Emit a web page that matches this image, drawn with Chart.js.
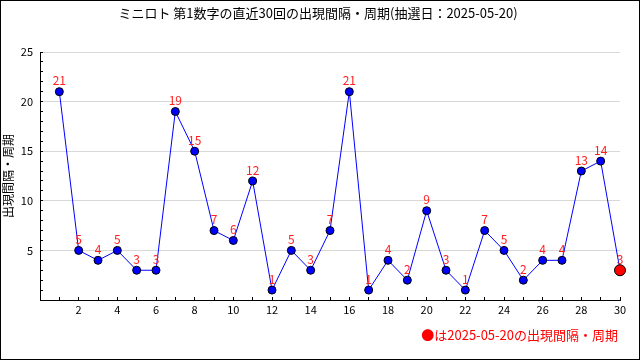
<!DOCTYPE html>
<html>
<head>
<meta charset="utf-8">
<script src="https://cdn.jsdelivr.net/npm/chart.js@4.4.1/dist/chart.umd.min.js"></script>
<style>
html,body{margin:0;padding:0;background:#fff;}
#wrap{width:640px;height:360px;position:relative;}
</style>
</head>
<body>
<div id="wrap"><canvas id="c" width="640" height="360"></canvas></div>
<script>
const titleText = 'ミニロト 第1数字の直近30回の出現間隔・周期(抽選日：2025-05-20)';
const yAxisTitle = '出現間隔・周期';
const footerText = '●は2025-05-20の出現間隔・周期';
const draws = [1,2,3,4,5,6,7,8,9,10,11,12,13,14,15,16,17,18,19,20,21,22,23,24,25,26,27,28,29,30];
const intervals = [21,5,4,5,3,3,19,15,7,6,12,1,5,3,7,21,1,4,2,9,3,1,7,5,2,4,4,13,14,3];
const yTicks = [5,10,15,20,25];
const xTicks = [2,4,6,8,10,12,14,16,18,20,22,24,26,28,30];

const FONT = '"Noto Sans CJK JP", "DejaVu Sans", sans-serif';
const lastIdx = intervals.length - 1;

const framePlugin = {
  id: 'frame',
  beforeDraw(chart) {
    const ctx = chart.ctx;
    ctx.save();
    ctx.fillStyle = '#fff';
    ctx.fillRect(0, 0, chart.width, chart.height);
    ctx.restore();
  },
  afterDraw(chart) {
    const ctx = chart.ctx;
    ctx.save();
    ctx.strokeStyle = '#000';
    ctx.lineWidth = 1;
    ctx.strokeRect(0.5, 0.5, chart.width - 1, chart.height - 1);
    // title
    ctx.font = '13px ' + FONT;
    ctx.fillStyle = '#000';
    ctx.textAlign = 'center';
    ctx.textBaseline = 'middle';
    ctx.fillText(titleText, 318, 13);
    // footer
    ctx.font = '13px ' + FONT;
    ctx.fillStyle = '#ff0000';
    ctx.textAlign = 'right';
    ctx.textBaseline = 'middle';
    ctx.fillText(footerText, 618, 335);
    ctx.restore();
  }
};

const labelPlugin = {
  id: 'pointLabels',
  afterDatasetsDraw(chart) {
    const ctx = chart.ctx;
    const meta = chart.getDatasetMeta(0);
    ctx.save();
    ctx.font = '12px ' + FONT;
    ctx.fillStyle = '#ff2020';
    ctx.textAlign = 'center';
    ctx.textBaseline = 'middle';
    meta.data.forEach((pt, i) => {
      ctx.fillText(String(intervals[i]), pt.x, pt.y - 11);
    });
    ctx.restore();
  }
};

new Chart(document.getElementById('c'), {
  type: 'line',
  data: {
    datasets: [{
      data: draws.map((d, i) => ({x: d, y: intervals[i]})),
      borderColor: '#0000ff',
      borderWidth: 1,
      tension: 0,
      pointBackgroundColor: intervals.map((v, i) => i === lastIdx ? '#ff0000' : '#0000ff'),
      pointBorderColor: '#000',
      pointBorderWidth: 1,
      pointRadius: intervals.map((v, i) => i === lastIdx ? 5.5 : 4),
      clip: false
    }]
  },
  options: {
    responsive: false,
    animation: false,
    devicePixelRatio: 1,
    layout: {padding: {top: 52, left: 0, right: 20, bottom: 40}},
    plugins: {
      legend: {display: false},
      tooltip: {enabled: false},
      title: {display: false}
    },
    scales: {
      x: {
        type: 'linear',
        min: 0,
        max: 30,
        afterFit(s) { s.height = 20; },
        border: {color: '#000', width: 1},
        grid: {drawOnChartArea: false, tickColor: '#000', tickLength: -3},
        ticks: {
          stepSize: 1,
          autoSkip: false,
          maxRotation: 0,
          padding: 6,
          color: '#000',
          font: {family: FONT, size: 11},
          callback: v => xTicks.includes(v) ? String(v) : ''
        }
      },
      y: {
        min: 0,
        max: 25,
        afterFit(s) { s.width = 40; },
        border: {color: '#000', width: 1},
        grid: {
          color: ctx => (ctx.tick && yTicks.includes(ctx.tick.value)) ? '#d8d8d8' : 'rgba(0,0,0,0)',
          tickColor: '#000',
          tickLength: -3
        },
        title: {
          display: true,
          text: yAxisTitle,
          color: '#000',
          font: {family: FONT, size: 12},
          padding: {top: 1, bottom: 0}
        },
        ticks: {
          stepSize: 1,
          autoSkip: false,
          padding: 10,
          color: '#000',
          font: {family: FONT, size: 11},
          callback: v => yTicks.includes(v) ? String(v) : ''
        }
      }
    }
  },
  plugins: [framePlugin, labelPlugin]
});
</script>
</body>
</html>
